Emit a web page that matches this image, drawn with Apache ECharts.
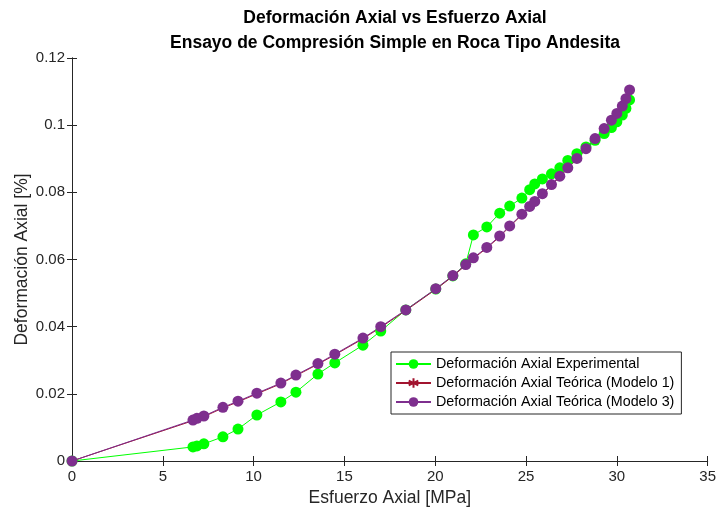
<!DOCTYPE html>
<html lang="es">
<head>
    <meta charset="utf-8">
    <title>Deformación Axial vs Esfuerzo Axial</title>
    <script src="https://cdn.jsdelivr.net/npm/echarts@6/dist/echarts.min.js"></script>
    <style type="text/css">
        html, body {
            width: 100%;
            height: 100%;
            margin: 0px;
            padding: 0px;
            background: #fff;
        }
        #main {
            width: 719px;
            height: 517px;
        }
    </style>
</head>
<body>
<div id="main"></div>
<script>
    // esfuerzo axial [MPa] (comun a las tres series)
    var esfuerzo = [0, 6.66, 6.88, 7.26, 8.31, 9.14, 10.18, 11.50, 12.33, 13.54, 14.47, 16.02, 17.0, 18.38,
        20.03, 20.97, 21.68, 22.1, 22.84, 23.55, 24.1, 24.77, 25.2, 25.48, 25.9, 26.4, 26.86, 27.3,
        27.8, 28.3, 28.8, 29.3, 29.7, 30.0, 30.3, 30.5, 30.7];

    // deformacion axial [%]
    var defExperimental = [0, 0.0042, 0.0045, 0.0051, 0.0072, 0.0095, 0.0137, 0.0176, 0.0205, 0.0259, 0.0292,
        0.0345, 0.0387, 0.0450, 0.0512, 0.0551, 0.0587, 0.0673, 0.0697, 0.0738, 0.0759, 0.0783, 0.0808,
        0.0825, 0.0840, 0.0855, 0.0873, 0.0895, 0.0915, 0.0935, 0.0955, 0.0975, 0.0993, 0.1010, 0.1030,
        0.1050, 0.1075];
    var defModelo1 = [0, 0.0120, 0.0125, 0.0132, 0.0158, 0.0176, 0.0200, 0.0230, 0.0254, 0.0288, 0.0316,
        0.0364, 0.0398, 0.0448, 0.0511, 0.0550, 0.0583, 0.0603, 0.0634, 0.0668, 0.0698, 0.0733, 0.0756,
        0.0771, 0.0794, 0.0821, 0.0846, 0.0871, 0.0899, 0.0928, 0.0958, 0.0988, 0.1012, 0.1032, 0.1054,
        0.1076, 0.1102];
    var defModelo3 = [0, 0.0122, 0.0127, 0.0134, 0.0160, 0.0178, 0.0202, 0.0232, 0.0256, 0.0290, 0.0318,
        0.0366, 0.0400, 0.0450, 0.0513, 0.0552, 0.0585, 0.0605, 0.0636, 0.0670, 0.0700, 0.0735, 0.0758,
        0.0773, 0.0796, 0.0823, 0.0848, 0.0873, 0.0901, 0.0930, 0.0960, 0.0990, 0.1015, 0.1035, 0.1057,
        0.1079, 0.1105];

    var nombres = ['Deformación Axial Experimental', 'Deformación Axial Teórica (Modelo 1)', 'Deformación Axial Teórica (Modelo 3)'];

    function pares(ys) {
        return esfuerzo.map(function (x, i) { return [x, ys[i]]; });
    }

    var ejeColor = '#262626';
    var fuente = '"Liberation Sans", Arial, Helvetica, sans-serif';
    var asterisco = 'path://M0,-10L0,10M-8.7,-5L8.7,5M-8.7,5L8.7,-5';

    var myChart = echarts.init(document.getElementById('main'));
    myChart.setOption({
        animation: false,
        textStyle: { fontFamily: fuente },
        title: {
            text: 'Deformación Axial vs Esfuerzo Axial\nEnsayo de Compresión Simple en Roca Tipo Andesita',
            left: 390,
            top: 1,
            textAlign: 'center',
            textStyle: { fontSize: 17.5, fontWeight: 'bold', color: '#000', lineHeight: 25, fontFamily: fuente }
        },
        legend: {
            orient: 'vertical',
            left: 391,
            top: 352,
            itemWidth: 35,
            itemHeight: 12,
            itemGap: 5,
            padding: [5, 7, 5, 4],
            backgroundColor: '#fff',
            borderColor: ejeColor,
            borderWidth: 1,
            borderRadius: 0,
            textStyle: { fontSize: 14.3, color: '#000', fontFamily: fuente },
            data: nombres
        },
        grid: { left: 72, right: 11, top: 58, bottom: 56, containLabel: false },
        xAxis: [{
            type: 'value',
            min: 0, max: 35, interval: 5,
            name: 'Esfuerzo Axial [MPa]',
            nameLocation: 'middle',
            nameGap: 28,
            nameMoveOverlap: false,
            nameTextStyle: { fontSize: 17.5, color: ejeColor, fontFamily: fuente },
            axisLine: { show: true, onZero: false, lineStyle: { color: ejeColor } },
            axisTick: { show: true, inside: true, length: 5, lineStyle: { color: ejeColor } },
            axisLabel: { fontSize: 15, color: ejeColor, margin: 8 },
            splitLine: { show: false }
        }, {
            type: 'value', position: 'top',
            min: 0, max: 35, interval: 5,
            axisLine: { show: true, lineStyle: { color: ejeColor } },
            axisTick: { show: true, inside: true, length: 5, lineStyle: { color: ejeColor } },
            axisLabel: { show: false },
            splitLine: { show: false }
        }],
        yAxis: [{
            type: 'value',
            min: 0, max: 0.12, interval: 0.02,
            name: 'Deformación Axial [%]',
            nameLocation: 'middle',
            nameGap: 41,
            nameMoveOverlap: false,
            nameTextStyle: { fontSize: 17.5, color: ejeColor, fontFamily: fuente },
            axisLine: { show: true, onZero: false, lineStyle: { color: ejeColor } },
            axisTick: { show: true, inside: true, length: 5, lineStyle: { color: ejeColor } },
            axisLabel: { fontSize: 15, color: ejeColor, margin: 7 },
            splitLine: { show: false }
        }, {
            type: 'value', position: 'right',
            min: 0, max: 0.12, interval: 0.02,
            axisLine: { show: true, lineStyle: { color: ejeColor } },
            axisTick: { show: true, inside: true, length: 5, lineStyle: { color: ejeColor } },
            axisLabel: { show: false },
            splitLine: { show: false }
        }],
        series: [{
            name: nombres[0],
            type: 'line',
            data: pares(defExperimental),
            symbol: 'circle',
            symbolSize: 11,
            lineStyle: { color: '#00ff00', width: 1 },
            itemStyle: { color: '#00ff00' }
        }, {
            name: nombres[1],
            type: 'line',
            data: pares(defModelo1),
            symbol: asterisco,
            symbolSize: 8,
            lineStyle: { color: '#a2142f', width: 1 },
            itemStyle: { color: '#a2142f', borderColor: '#a2142f', borderWidth: 1 }
        }, {
            name: nombres[2],
            type: 'line',
            data: pares(defModelo3),
            symbol: 'circle',
            symbolSize: 11,
            lineStyle: { color: '#7e2f8e', width: 1 },
            itemStyle: { color: '#7e2f8e' }
        }]
    });
</script>
</body>
</html>
